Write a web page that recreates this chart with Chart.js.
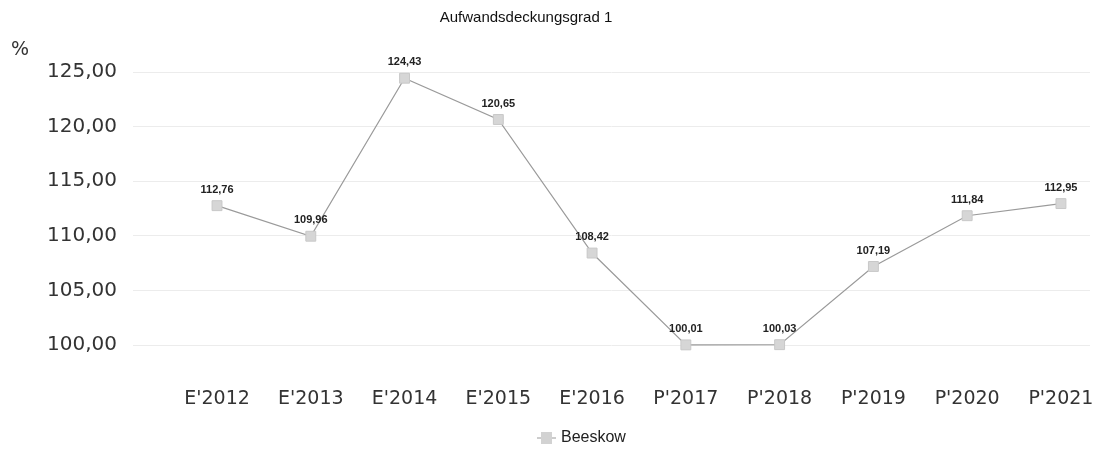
<!DOCTYPE html>
<html>
<head>
<meta charset="utf-8">
<script src="https://cdn.jsdelivr.net/npm/chart.js@4.4.0/dist/chart.umd.min.js"></script>
<style>
  html, body { margin: 0; padding: 0; background: #fff; }
  #wrap { width: 1098px; height: 458px; }
</style>
</head>
<body>
<div id="wrap"><canvas id="chartCanvas" width="1098" height="458"></canvas></div>
<script>
// Categories and values
const categories = ["E'2012", "E'2013", "E'2014", "E'2015", "E'2016", "P'2017", "P'2018", "P'2019", "P'2020", "P'2021"];
const beeskow = [112.76, 109.96, 124.43, 120.65, 108.42, 100.01, 100.03, 107.19, 111.84, 112.95];
const yTicks = [100, 105, 110, 115, 120, 125];

const chartTitle = "Aufwandsdeckungsgrad 1";
const seriesName = "Beeskow";
const unitLabel = "%";

// Format numbers German style
function fmt(v) {
  return v.toFixed(2).replace(".", ",");
}

// Draws title, unit, value labels and legend
const overlayPlugin = {
  id: "overlay",
  afterDatasetsDraw(chart) {
    const ctx = chart.ctx;
    const meta = chart.getDatasetMeta(0);
    ctx.save();
    ctx.fillStyle = "#222";
    ctx.font = "bold 11px 'Liberation Sans', Arial, sans-serif";
    ctx.textAlign = "center";
    ctx.textBaseline = "middle";
    meta.data.forEach((pt, i) => {
      ctx.fillText(fmt(beeskow[i]), pt.x, pt.y - 16);
    });
    ctx.restore();
  },
  afterDraw(chart) {
    const ctx = chart.ctx;
    ctx.save();
    // title
    ctx.fillStyle = "#111";
    ctx.font = "15px 'Liberation Sans', Arial, sans-serif";
    ctx.textAlign = "center";
    ctx.textBaseline = "middle";
    ctx.fillText(chartTitle, 526, 18);
    // unit
    ctx.fillStyle = "#333";
    ctx.font = "19px 'DejaVu Sans', sans-serif";
    ctx.textAlign = "left";
    ctx.fillText(unitLabel, 11, 50);
    // legend
    const ly = 438;
    ctx.strokeStyle = "#9a9a9a";
    ctx.lineWidth = 1;
    ctx.beginPath();
    ctx.moveTo(537, ly);
    ctx.lineTo(556, ly);
    ctx.stroke();
    ctx.fillStyle = "#d2d2d2";
    ctx.fillRect(541, ly - 6, 11, 12);
    ctx.fillStyle = "#222";
    ctx.font = "16px 'Liberation Sans', Arial, sans-serif";
    ctx.textAlign = "left";
    ctx.fillText(seriesName, 561, ly);
    ctx.restore();
  },
};

const ctx = document.getElementById("chartCanvas").getContext("2d");
const myChart = new Chart(ctx, {
  type: "line",
  data: {
    datasets: [
      {
        label: seriesName,
        data: beeskow.map((v, i) => ({ x: i, y: v })),
        borderColor: "#9a9a9a",
        borderWidth: 1.2,
        pointStyle: "rect",
        pointRadius: 7,
        pointBackgroundColor: "#d6d6d6",
        pointBorderColor: "#c8c8c8",
        pointBorderWidth: 1,
        tension: 0,
        clip: false,
      },
    ],
  },
  options: {
    responsive: false,
    animation: false,
    layout: { padding: { top: 72, right: 2, left: 0, bottom: 0 } },
    plugins: {
      legend: { display: false },
      title: { display: false },
      tooltip: { enabled: false },
    },
    scales: {
      x: {
        type: "linear",
        min: -0.896,
        max: 9.31,
        grid: { display: false, drawTicks: false },
        border: { display: false },
        afterBuildTicks: function (scale) {
          scale.ticks = categories.map((c, i) => ({ value: i }));
        },
        afterFit: function (scale) {
          scale.height = 113;
          scale.paddingLeft = 0;
          scale.paddingRight = 0;
        },
        ticks: {
          padding: 43,
          autoSkip: false,
          maxRotation: 0,
          color: "#333",
          font: { family: "'DejaVu Sans', sans-serif", size: 19 },
          callback: function (value) {
            return categories[value];
          },
        },
      },
      y: {
        min: 100,
        max: 125,
        afterBuildTicks: function (scale) {
          scale.ticks = yTicks.map((v) => ({ value: v }));
        },
        afterFit: function (scale) {
          scale.width = 133;
          scale.paddingTop = 0;
          scale.paddingBottom = 0;
        },
        grid: { color: "#ececec", drawTicks: false },
        border: { display: false },
        ticks: {
          padding: 16,
          color: "#333",
          font: { family: "'DejaVu Sans', sans-serif", size: 20 },
          callback: function (value) {
            return fmt(value);
          },
        },
      },
    },
  },
  plugins: [overlayPlugin],
});
</script>
</body>
</html>
